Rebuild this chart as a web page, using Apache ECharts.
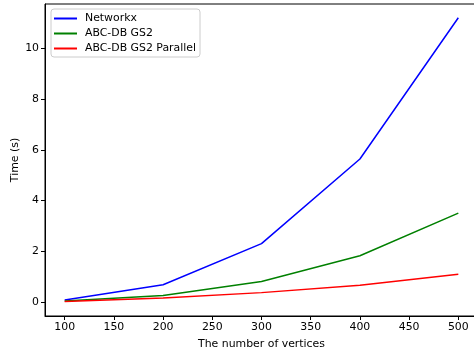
<!DOCTYPE html>
<html><head><meta charset="utf-8">
<script src="https://cdn.jsdelivr.net/npm/echarts@6/dist/echarts.min.js"></script>
<style>html,body{margin:0;padding:0;background:#fff}#c{width:474px;height:353px}</style>
</head><body><div id="c"></div>
<script>
const vertices = [100, 200, 300, 400, 500];
const networkx = [0.09, 0.69, 2.31, 5.64, 11.2];
const gs2 = [0.05, 0.27, 0.82, 1.83, 3.51];
const gs2Parallel = [0.03, 0.17, 0.38, 0.67, 1.1];
const xTicks = [100, 150, 200, 250, 300, 350, 400, 450, 500];
const yTicks = [0, 2, 4, 6, 8, 10];

const font = 'DejaVu Sans';
const fs = 10.9;
const chart = echarts.init(document.getElementById('c'));
const mk = (name, vals, color) => ({
  name, type: 'line', data: vertices.map((v, i) => [v, vals[i]]),
  showSymbol: false, symbol: 'none', lineStyle: { color, width: 1.5 }, itemStyle: { color },
  animation: false
});
chart.setOption({
  animation: false,
  grid: { left: 45, right: -4, top: 4, bottom: 37, outerBoundsMode: 'none', containLabel: false,
          show: true, borderColor: '#000', borderWidth: 1, backgroundColor: 'transparent' },
  legend: {
    orient: 'vertical', left: 51, top: 9, icon: 'rect', itemWidth: 23, itemHeight: 2, itemGap: 4,
    padding: [4, 4, 3, 3], borderColor: '#cccccc', borderWidth: 1, borderRadius: 3,
    textStyle: { fontFamily: font, fontSize: fs, color: '#000', padding: [0, 0, 0, 3] },
    data: ['Networkx', 'ABC-DB GS2', 'ABC-DB GS2 Parallel']
  },
  xAxis: {
    type: 'value', min: 80, max: 520,
    name: 'The number of vertices', nameLocation: 'middle', nameGap: 23, nameMoveOverlap: false,
    nameTextStyle: { fontFamily: font, fontSize: fs, color: '#000' },
    axisLine: { show: true, onZero: false, lineStyle: { color: '#000' } },
    axisTick: { show: true, length: 4, customValues: xTicks, lineStyle: { color: '#000' } },
    axisLabel: { customValues: xTicks, fontFamily: font, fontSize: fs, color: '#000', margin: 6 },
    splitLine: { show: false }
  },
  yAxis: {
    type: 'value', min: -0.54, max: 11.74,
    name: 'Time (s)', nameLocation: 'middle', nameGap: 24, nameRotate: 90, nameMoveOverlap: false,
    nameTextStyle: { fontFamily: font, fontSize: fs, color: '#000' },
    axisLine: { show: true, onZero: false, lineStyle: { color: '#000' } },
    axisTick: { show: true, length: 4, customValues: yTicks, lineStyle: { color: '#000' } },
    axisLabel: { customValues: yTicks, fontFamily: font, fontSize: fs, color: '#000', margin: 6 },
    splitLine: { show: false }
  },
  series: [mk('Networkx', networkx, '#0000ff'), mk('ABC-DB GS2', gs2, '#008000'), mk('ABC-DB GS2 Parallel', gs2Parallel, '#ff0000')]
});
</script></body></html>
